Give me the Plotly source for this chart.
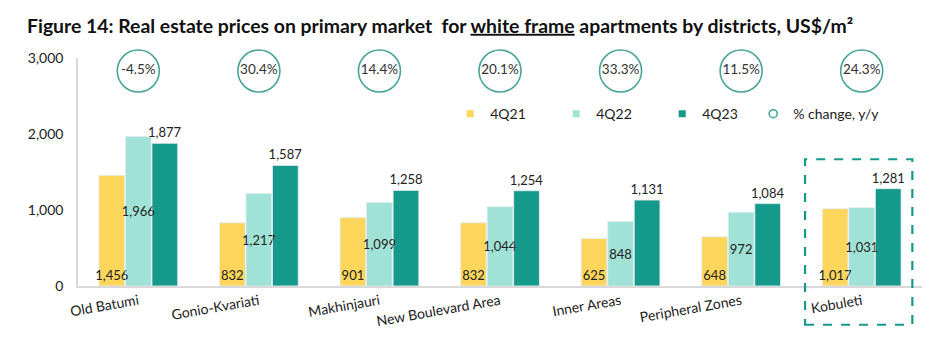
import plotly.graph_objects as go

districts = ["Old Batumi", "Gonio-Kvariati", "Makhinjauri", "New Boulevard Area",
             "Inner Areas", "Peripheral Zones", "Kobuleti"]
q421 = [1456, 832, 901, 832, 625, 648, 1017]
q422 = [1966, 1217, 1099, 1044, 848, 972, 1031]
q423 = [1877, 1587, 1258, 1254, 1131, 1084, 1281]
yoy_labels = ["-4.5%", "30.4%", "14.4%", "20.1%", "33.3%", "11.5%", "24.3%"]
y_ticks = [0, 1000, 2000, 3000]
highlight = "Kobuleti"

C1 = "#FDD65B"
C2 = "#A0E2D5"
C3 = "#15998A"
CIRC = "#49A597"
FONT = "Lato"
TXT = "#222222"

fig = go.Figure()

series = [("4Q21", q421, C1, "inside", "start"),
          ("4Q22", q422, C2, "inside", "middle"),
          ("4Q23", q423, C3, "outside", "end")]

# bars
for nm, vals, col, _, _ in series:
    fig.add_trace(go.Bar(x=districts, y=vals, name=nm, marker_color=col,
                         offsetgroup=nm, showlegend=False, hoverinfo="x+y"))
# value labels drawn on top of all bars
for nm, vals, col, pos, anchor in series:
    fig.add_trace(go.Bar(x=districts, y=vals, name=nm, offsetgroup=nm,
                         marker=dict(color="rgba(0,0,0,0)"),
                         texttemplate="%{y:,}", textposition=pos,
                         insidetextanchor=anchor, textangle=0,
                         constraintext="none", cliponaxis=False,
                         textfont=dict(family=FONT, size=13, color=TXT),
                         showlegend=False, hoverinfo="skip"))

# y/y change circles on an overlay axis
fig.add_trace(go.Scatter(
    x=districts, y=[0.943] * len(districts), yaxis="y2", mode="markers+text",
    text=yoy_labels, textposition="middle center",
    textfont=dict(family=FONT, size=13.5, color="#333333"),
    marker=dict(symbol="circle", size=42, color="rgba(255,255,255,0)",
                line=dict(color=CIRC, width=1.6)),
    showlegend=False, cliponaxis=False, hoverinfo="text"))

# legend entries
for nm, col in [("4Q21", C1), ("4Q22", C2), ("4Q23", C3)]:
    fig.add_trace(go.Scatter(x=[None], y=[None], mode="markers", name=nm,
                             marker=dict(symbol="square", size=7, color=col)))
fig.add_trace(go.Scatter(x=[None], y=[None], mode="markers", name="% change, y/y",
                         legend="legend2",
                         marker=dict(symbol="circle-open", size=8, color=CIRC,
                                     line=dict(width=1.6, color=CIRC))))

hi = districts.index(highlight)
fig.add_shape(type="rect", xref="x", yref="paper",
              x0=hi - 0.47, x1=hi + 0.42, y0=-0.17, y1=0.556,
              line=dict(color=C3, width=2.2, dash="dash"), layer="above")

leg_common = dict(orientation="h", y=0.754, xanchor="left", yanchor="middle",
                  font=dict(family=FONT, size=14, color=TXT),
                  bgcolor="rgba(0,0,0,0)", itemwidth=30)

fig.update_layout(
    width=940, height=340,
    margin=dict(l=78, r=18, t=58, b=54, autoexpand=False),
    paper_bgcolor="white", plot_bgcolor="white",
    font=dict(family=FONT, size=14, color=TXT),
    title=dict(text="<b>Figure 14: Real estate prices on primary market  for <u>white frame</u> apartments by districts, US$/m²</b>",
               x=27 / 940, xanchor="left", y=1 - 26 / 340, yanchor="middle",
               font=dict(family=FONT, size=19.4, color="#111111")),
    barmode="group", bargap=0.34, bargroupgap=0.03,
    xaxis=dict(range=[-0.5, 6.5], showline=True, linecolor="#D9D9D9", linewidth=1.5,
               showgrid=False, ticks="", tickangle=-10,
               tickfont=dict(family=FONT, size=14, color=TXT)),
    yaxis=dict(range=[0, 3000], tickvals=y_ticks, tickformat=",", showgrid=False,
               zeroline=False, showline=True, linecolor="#D9D9D9", linewidth=1.5,
               ticks="", ticklabelstandoff=10,
               tickfont=dict(family=FONT, size=14, color=TXT)),
    yaxis2=dict(range=[0, 1], overlaying="y", visible=False, fixedrange=True),
    legend=dict(x=0.441, entrywidth=61, entrywidthmode="pixels", **leg_common),
    legend2=dict(x=0.800, **leg_common),
)

fig.write_html("out.html")
